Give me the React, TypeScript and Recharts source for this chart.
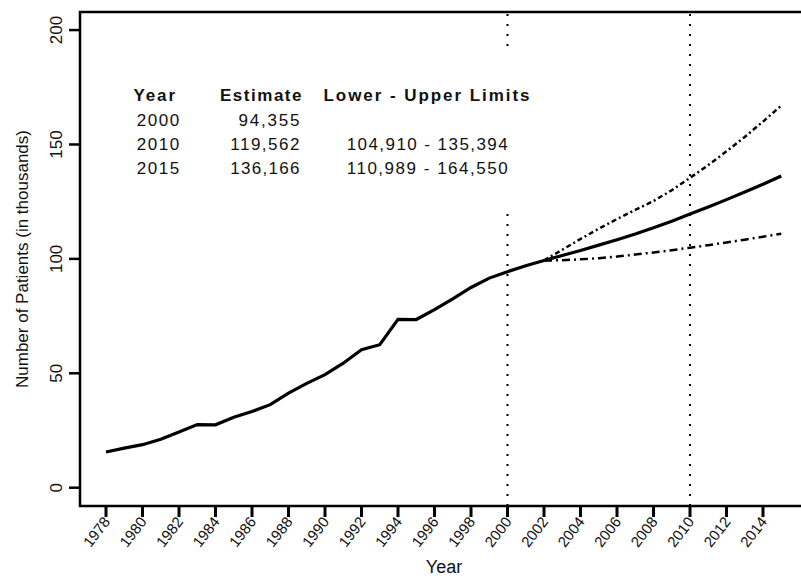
import { LineChart, Line, XAxis, YAxis, ReferenceLine, ReferenceArea } from 'recharts';

const FONT = '"Liberation Sans", Arial, Helvetica, sans-serif';

// observed + projected number of patients (thousands)
const years = [
  1978, 1979, 1980, 1981, 1982, 1983, 1984, 1985, 1986, 1987, 1988, 1989, 1990,
  1991, 1992, 1993, 1994, 1995, 1996, 1997, 1998, 1999, 2000, 2001, 2002, 2003,
  2004, 2005, 2006, 2007, 2008, 2009, 2010, 2011, 2012, 2013, 2014, 2015,
];
const estimate = [
  15.6, 17.3, 18.8, 21.2, 24.3, 27.6, 27.5, 30.8, 33.3, 36.3, 41.3, 45.6, 49.4,
  54.4, 60.3, 62.5, 73.6, 73.5, 77.8, 82.5, 87.5, 91.6, 94.4, 97.0, 99.3, 101.5,
  103.7, 106.0, 108.4, 110.9, 113.6, 116.5, 119.6, 122.7, 125.9, 129.2, 132.6, 136.2,
];
const projYears = [2002, 2003, 2004, 2005, 2006, 2007, 2008, 2009, 2010, 2011, 2012, 2013, 2014, 2015];
const upperLimit = [99.3, 104.0, 108.7, 113.2, 117.4, 121.4, 125.3, 130.0, 135.4, 141.0, 147.0, 153.3, 160.0, 167.0];
const lowerLimit = [99.3, 99.4, 99.8, 100.3, 101.0, 101.9, 102.8, 103.8, 104.9, 106.0, 107.2, 108.4, 109.7, 111.0];

const xTicks = [1978, 1980, 1982, 1984, 1986, 1988, 1990, 1992, 1994, 1996, 1998, 2000, 2002, 2004, 2006, 2008, 2010, 2012, 2014];
const yTicks = [0, 50, 100, 150, 200];
const cutLines = [2000, 2010];

const X_MIN = 1976.575;
const X_MAX = 2016.685;
const Y_MIN = -8;
const Y_MAX = 207.9;

const data = years.map((year, i) => {
  const j = projYears.indexOf(year);
  return {
    year,
    estimate: estimate[i],
    upper: j >= 0 ? upperLimit[j] : null,
    lower: j >= 0 ? lowerLimit[j] : null,
  };
});

function XTick({ x, y, payload }: any) {
  const ax = x + 5;
  const ay = y + 2;
  return (
    <text
      x={ax}
      y={ay}
      textAnchor="end"
      fontSize={15}
      fontFamily={FONT}
      fill="#111"
      transform={`rotate(-52, ${ax}, ${ay})`}
    >
      {payload.value}
    </text>
  );
}

function YTick({ x, y, payload }: any) {
  return (
    <text
      x={x}
      y={y}
      textAnchor="middle"
      fontSize={17}
      fontFamily={FONT}
      fill="#111"
      transform={`rotate(-90, ${x}, ${y})`}
    >
      {payload.value}
    </text>
  );
}

function YLabel({ viewBox }: any) {
  const cx = 28;
  const cy = viewBox.y + viewBox.height / 2;
  return (
    <text
      x={cx}
      y={cy}
      textAnchor="middle"
      fontSize={17}
      fontFamily={FONT}
      fill="#111"
      transform={`rotate(-90, ${cx}, ${cy})`}
    >
      Number of Patients (in thousands)
    </text>
  );
}

function XLabel({ viewBox }: any) {
  return (
    <text
      x={viewBox.x + viewBox.width / 2 - 2}
      y={573}
      textAnchor="middle"
      fontSize={18}
      fontFamily={FONT}
      fill="#111"
    >
      Year
    </text>
  );
}

const tableHeader = [
  { text: 'Year', x: 133.5, anchor: 'start', len: 41.5 },
  { text: 'Estimate', x: 301.5, anchor: 'end', len: 81.5 },
  { text: 'Lower - Upper Limits', x: 323.5, anchor: 'start', len: 206 },
];
const tableRows = [
  ['2000', '94,355', ''],
  ['2010', '119,562', '104,910 - 135,394'],
  ['2015', '136,166', '110,989 - 164,550'],
];
const rowBaselines = [126, 150, 174];

function EstimateTable() {
  return (
    <svg
      width={801}
      height={578}
      style={{ position: 'absolute', left: 0, top: 0, pointerEvents: 'none' }}
    >
      <rect x={118} y={52} width={420} height={154} fill="#fff" />
      {tableHeader.map((h) => (
        <text
          key={h.text}
          x={h.x}
          y={100.5}
          textAnchor={h.anchor as any}
          fontSize={17}
          fontWeight="bold"
          fontFamily={FONT}
          fill="#111"
          textLength={h.len}
          lengthAdjust="spacing"
        >
          {h.text}
        </text>
      ))}
      {tableRows.map((row, i) => (
        <g key={row[0]} fontSize={17} fontFamily={FONT} fill="#111">
          <text x={136.7} y={rowBaselines[i]} textLength={42.6} lengthAdjust="spacing">
            {row[0]}
          </text>
          <text
            x={299.5}
            y={rowBaselines[i]}
            textAnchor="end"
            textLength={row[1].length === 6 ? 61 : 69.3}
            lengthAdjust="spacing"
          >
            {row[1]}
          </text>
          {row[2] && (
            <text x={346.7} y={rowBaselines[i]} textLength={161} lengthAdjust="spacing">
              {row[2]}
            </text>
          )}
        </g>
      ))}
    </svg>
  );
}

export default function App() {
  return (
    <div
      style={{
        position: 'absolute',
        left: 0,
        top: 0,
        width: 801,
        height: 578,
        overflow: 'hidden',
        background: '#fff',
      }}
    >
      <LineChart width={812} height={578} data={data} margin={{ top: 12, right: 0, bottom: 0, left: 0 }}>
        <XAxis
          dataKey="year"
          type="number"
          domain={[X_MIN, X_MAX]}
          ticks={xTicks}
          interval={0}
          allowDataOverflow
          axisLine={false}
          tickLine={{ stroke: '#000', strokeWidth: 3 }}
          tickSize={11}
          tickMargin={3}
          height={72}
          tick={<XTick />}
          label={<XLabel />}
        />
        <YAxis
          type="number"
          domain={[Y_MIN, Y_MAX]}
          ticks={yTicks}
          interval={0}
          allowDataOverflow
          axisLine={false}
          tickLine={{ stroke: '#000', strokeWidth: 2.5 }}
          tickSize={11}
          tickMargin={7}
          width={80}
          tick={<YTick />}
          label={<YLabel />}
        />
        {cutLines.map((yr) => (
          <ReferenceLine
            key={yr}
            x={yr}
            stroke="#000"
            strokeWidth={2}
            strokeDasharray="2 8"
          />
        ))}
        <Line
          type="linear"
          dataKey="upper"
          stroke="#000"
          strokeWidth={2.5}
          strokeDasharray="5 3 2 3"
          dot={false}
          isAnimationActive={false}
        />
        <Line
          type="linear"
          dataKey="lower"
          stroke="#000"
          strokeWidth={2.5}
          strokeDasharray="8 4 2 4"
          dot={false}
          isAnimationActive={false}
        />
        <Line
          type="linear"
          dataKey="estimate"
          stroke="#000"
          strokeWidth={3.2}
          dot={false}
          isAnimationActive={false}
        />
        <ReferenceArea
          x1={X_MIN}
          x2={X_MAX}
          y1={Y_MIN}
          y2={Y_MAX}
          fill="none"
          stroke="#000"
          strokeWidth={2.5}
          ifOverflow="visible"
        />
      </LineChart>
      <EstimateTable />
    </div>
  );
}
